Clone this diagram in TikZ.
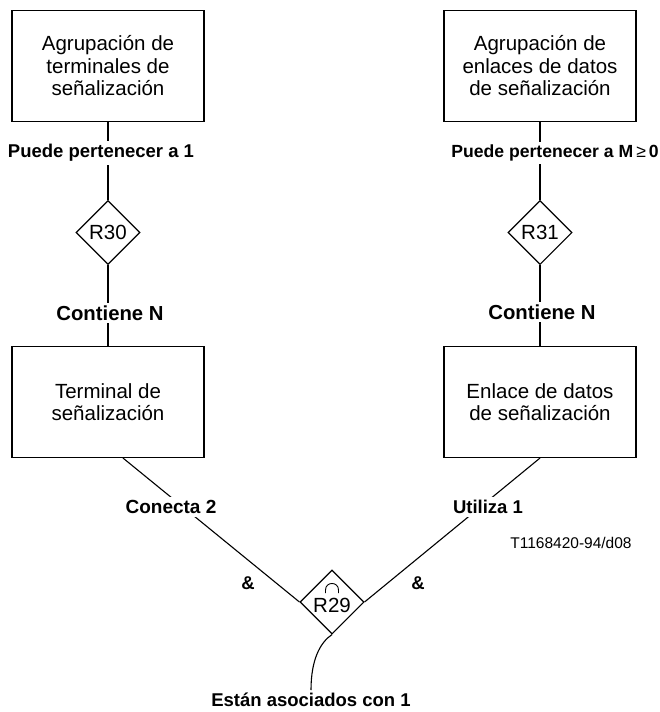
\documentclass[tikz,border=0pt]{standalone}
\usepackage{fontspec}
\setmainfont{Liberation Sans}
\usetikzlibrary{shapes.geometric}
\begin{document}
\begin{tikzpicture}[x=1pt,y=-1pt,
  entity/.style={draw, line width=1.1pt, minimum width=192pt, minimum height=111pt,
    inner sep=0pt, align=center, font=\fontsize{20.5}{22.5}\selectfont},
  rel/.style={draw, diamond, line width=1.1pt, minimum width=64pt, minimum height=64pt,
    inner sep=0pt, font=\fontsize{20.5}{22}\selectfont},
  card/.style={fill=white, inner sep=3pt, font=\fontsize{18.5}{20}\selectfont\bfseries},
  vlink/.style={line width=1.8pt},
  slink/.style={line width=1.1pt},
]
\useasboundingbox (0,0) rectangle (659,712);

% entities
\node[entity] (gts)  at (108,66)  {Agrupación de\\terminales de\\señalización};
\node[entity] (geds) at (540,66)  {Agrupación de\\enlaces de datos\\de señalización};
\node[entity] (ts)   at (108,402) {Terminal de\\señalización};
\node[entity] (eds)  at (540,402) {Enlace de datos\\de señalización};

% relationships
\node[rel] (r30) at (108,232.5) {R30};
\node[rel] (r31) at (540,232.5) {R31};
\node[rel] (r29) at (332,602) {\raisebox{-10pt}[0pt][0pt]{R29}};
% intersection mark above the R29 label
\draw[line width=0.9pt] (r29.center) ++(-6.5pt,9pt) -- ++(0pt,3pt)
  .. controls +(0pt,8.7pt) and +(0pt,8.7pt) .. ++(13pt,0pt) -- ++(0pt,-3pt);

% connectors
\draw[vlink] (gts.south) -- (r30.north);
\draw[vlink] (r30.south) -- (ts.north);
\draw[vlink] (geds.south) -- (r31.north);
\draw[vlink] (r31.south) -- (eds.north);
\draw[slink] ([xshift=15pt]ts.south) -- (r29.west);
\draw[slink] (eds.south) -- (r29.east);

% cardinality labels
\node[card] (l1) at (101,153) {Puede pertenecer a 1};
\node[card, font=\fontsize{17.6}{20}\selectfont\bfseries] (l2) at (555,153) {Puede pertenecer a M\,{\mdseries ≥}\,0};
\node[card, font=\fontsize{20.3}{22}\selectfont\bfseries] (l3) at (110,313) {Contiene N};
\node[card, font=\fontsize{20.3}{22}\selectfont\bfseries] (l4) at (542,312) {Contiene N};
\node[card, font=\fontsize{19}{20}\selectfont\bfseries] (l5) at (171,507) {Conecta 2};
\node[card] (l6) at (488,507) {Utiliza 1};
\node[card, fill=none] (a1) at (248,583) {\&};
\node[card, fill=none] (a2) at (418,583) {\&};
\node[card, fill=none, anchor=north] (assoc) at (311,690) {Están asociados con 1};
\draw[slink] (r29.south) .. controls +(-12,8) and +(0,-30) .. (assoc.north);

\node[font=\fontsize{15.5}{16}\selectfont] (fig) at (571,543) {T1168420-94/d08};
\end{tikzpicture}
\end{document}
